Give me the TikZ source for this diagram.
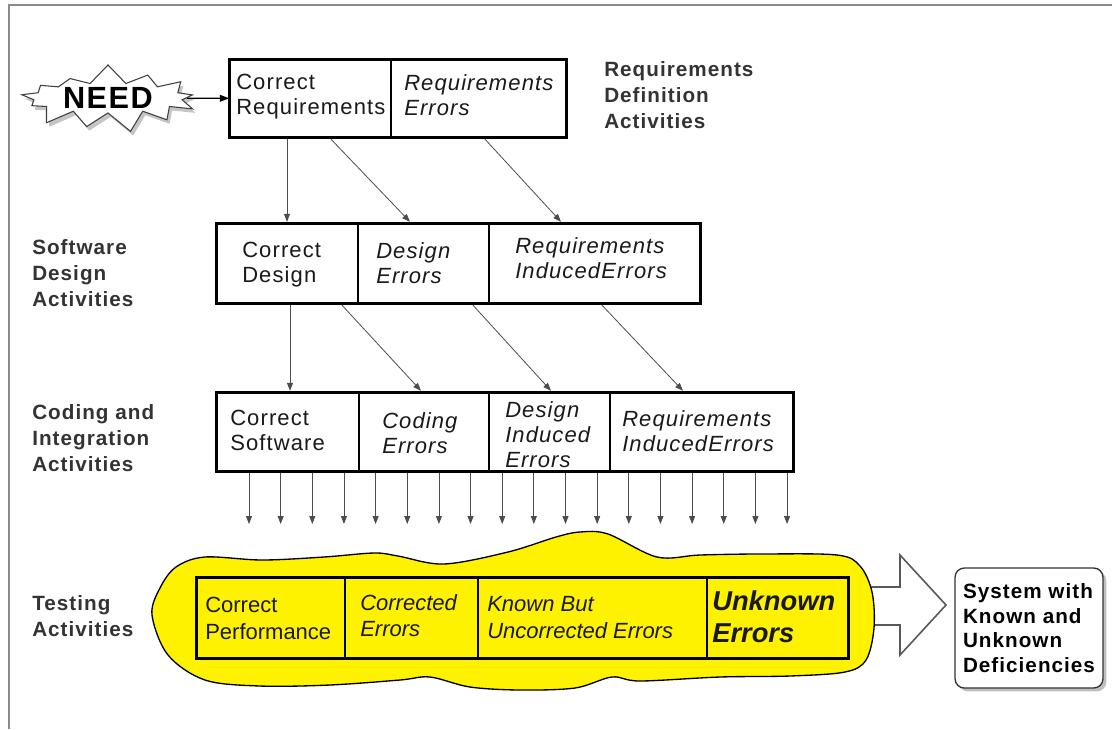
\documentclass[tikz,border=0pt]{standalone}
\usepackage{fontspec}
\setmainfont{Liberation Sans}[LetterSpace=5]
\newfontfamily\plainsans{Liberation Sans}
\usetikzlibrary{arrows.meta, positioning, shapes.symbols, shadows, fit}

\tikzset{
  cell/.style={draw, line width=1.1pt, inner sep=0pt},
  rowframe/.style={draw, line width=2.2pt, inner sep=0pt},
  txt/.style={anchor=north west, align=left, inner sep=0pt, text=black!90,
    font=\fontsize{16.5}{19}\selectfont},
  itxt/.style={txt, font=\fontsize{16.5}{19}\selectfont\itshape},
  ttxt/.style={txt, font=\plainsans\fontsize{16.5}{20}\selectfont},
  lbl/.style={txt, text=black!80, font=\fontsize{15.5}{19.5}\selectfont\bfseries},
  flow/.style={-{Triangle[length=6pt,width=4.5pt]}, line width=0.6pt, draw=black!70},
  burst/.style={starburst, starburst points=13, starburst point height=15pt,
    random starburst=7, draw=black!75, fill=white, line width=0.8pt,
    minimum width=142pt, minimum height=52pt, inner sep=0pt,
    drop shadow={shadow xshift=2pt, shadow yshift=-3pt, fill=black!45},
    font=\fontsize{23}{26}\selectfont\bfseries},
  blob/.style={fill=yellow, draw=black, line width=1pt},
  sysbox/.style={draw=black!80, fill=white, rounded corners=7pt, line width=1pt,
    minimum width=111pt, minimum height=90pt, inner sep=3pt, align=left,
    drop shadow={shadow xshift=2.5pt, shadow yshift=-2.5pt, fill=black!50},
    font=\fontsize{15.5}{18.5}\selectfont\bfseries},
}

\begin{document}
\begin{tikzpicture}[x=0.75pt, y=-0.75pt]
\useasboundingbox (0,0) rectangle (1112,729);

% frame
\draw[black!45, line width=2pt] (9,729) -- (9,5) -- (1112,5);

% requirements definition
\node[burst] (need) at (108,98) {NEED};
\node[cell, fit={(230,60) (391,137)}] (creq) {};
\node[cell, fit={(391,60) (566,137)}] (ereq) {};
\node[rowframe, fit=(creq)(ereq)] (rowa) {};
\draw[-{Triangle[length=7pt,width=5pt]}, line width=1pt] (need) -- (creq);
\node[txt] (creqt) at (236,74) {Correct\\Requirements};
\node[itxt] (ereqt) at (404,74) {Requirements\\Errors};
\node[lbl] (reqlbl) at (604,61) {Requirements\\Definition\\Activities};

% software design
\node[cell, fit={(217,224) (358,303)}] (cdes) {};
\node[cell, fit={(358,224) (489,303)}] (edes) {};
\node[cell, fit={(489,224) (700,303)}] (ides) {};
\node[rowframe, fit=(cdes)(ides)] (rowb) {};
\node[txt] (cdest) at (242,242) {Correct\\Design};
\node[itxt] (edest) at (376,242) {Design\\Errors};
\node[itxt] (idest) at (515,237) {Requirements\\Induced\kern1pt Errors};
\node[lbl] (deslbl) at (32,239) {Software\\Design\\Activities};

\draw[flow] (287,0 |- rowa.south) -- (287,0 |- rowb.north);
\draw[flow] (331,0 |- rowa.south) -- (410,0 |- rowb.north);
\draw[flow] (485,0 |- rowa.south) -- (561,0 |- rowb.north);

% coding and integration
\node[cell, fit={(217,393) (359,471)}] (csw) {};
\node[cell, fit={(359,393) (489,471)}] (ecod) {};
\node[cell, fit={(489,393) (610,471)}] (edi) {};
\node[cell, fit={(610,393) (793,471)}] (eri) {};
\node[rowframe, fit=(csw)(eri)] (rowc) {};
\node[txt] (cswt) at (230,410) {Correct\\Software};
\node[itxt] (ecodt) at (382,412) {Coding\\Errors};
\node[itxt] (edit) at (505,401) {Design\\Induced\\Errors};
\node[itxt] (erit) at (622,410) {Requirements\\Induced\kern1pt Errors};
\node[lbl] (codlbl) at (32,404) {Coding and\\Integration\\Activities};

\draw[flow] (290,0 |- rowb.south) -- (290,0 |- rowc.north);
\draw[flow] (342,0 |- rowb.south) -- (421,0 |- rowc.north);
\draw[flow] (473,0 |- rowb.south) -- (551,0 |- rowc.north);
\draw[flow] (602,0 |- rowb.south) -- (683,0 |- rowc.north);

\foreach \i in {0,...,17} {
  \pgfmathsetmacro\xx{249+31.65*\i}
  \draw[flow] (\xx,0 |- rowc.south) -- (\xx,524);
}

% testing
\draw[black!65, line width=1.2pt, fill=white]
  (860,587) -- (900,587) -- (900,555) -- (946,605) -- (900,655) -- (900,625) -- (860,625);
\draw[blob] plot[smooth cycle, tension=0.55] coordinates {
  (152,615) (160,588) (176,567) (205,557) (262,560) (324,557) (374,553)
  (398,556) (444,564) (508,552) (556,537) (580,532) (608,534) (657,557)
  (700,555) (760,554) (837,555) (860,566) (872,592) (874,628) (866,660)
  (845,672) (790,676) (720,677) (640,681) (612,677) (575,688) (520,690)
  (470,687) (430,677) (400,680) (330,685) (260,686) (205,680) (168,655)};
\node[cell, fit={(197,578) (345,658)}] (cperf) {};
\node[cell, fit={(345,578) (478,658)}] (ecor) {};
\node[cell, fit={(478,578) (707,658)}] (eknown) {};
\node[cell, fit={(707,578) (848,658)}] (eunk) {};
\node[rowframe, fit=(cperf)(eunk)] (rowd) {};
\node[ttxt] (cperft) at (205,597) {Correct\\Performance};
\node[ttxt, font=\plainsans\fontsize{16.5}{20}\selectfont\itshape] (ecort) at (360,594) {Corrected\\Errors};
\node[ttxt, font=\plainsans\fontsize{16.5}{20}\selectfont\itshape] (eknownt) at (487,596) {Known But\\Uncorrected Errors};
\node[ttxt, font=\plainsans\fontsize{20.5}{24.5}\selectfont\bfseries\itshape] (eunkt) at (712,590) {Unknown\\Errors};
\node[lbl] (tstlbl) at (32,595) {Testing\\Activities};

\node[sysbox] (sys) at (1029,628) {System with\\Known and\\Unknown\\Deficiencies};
\end{tikzpicture}
\end{document}
